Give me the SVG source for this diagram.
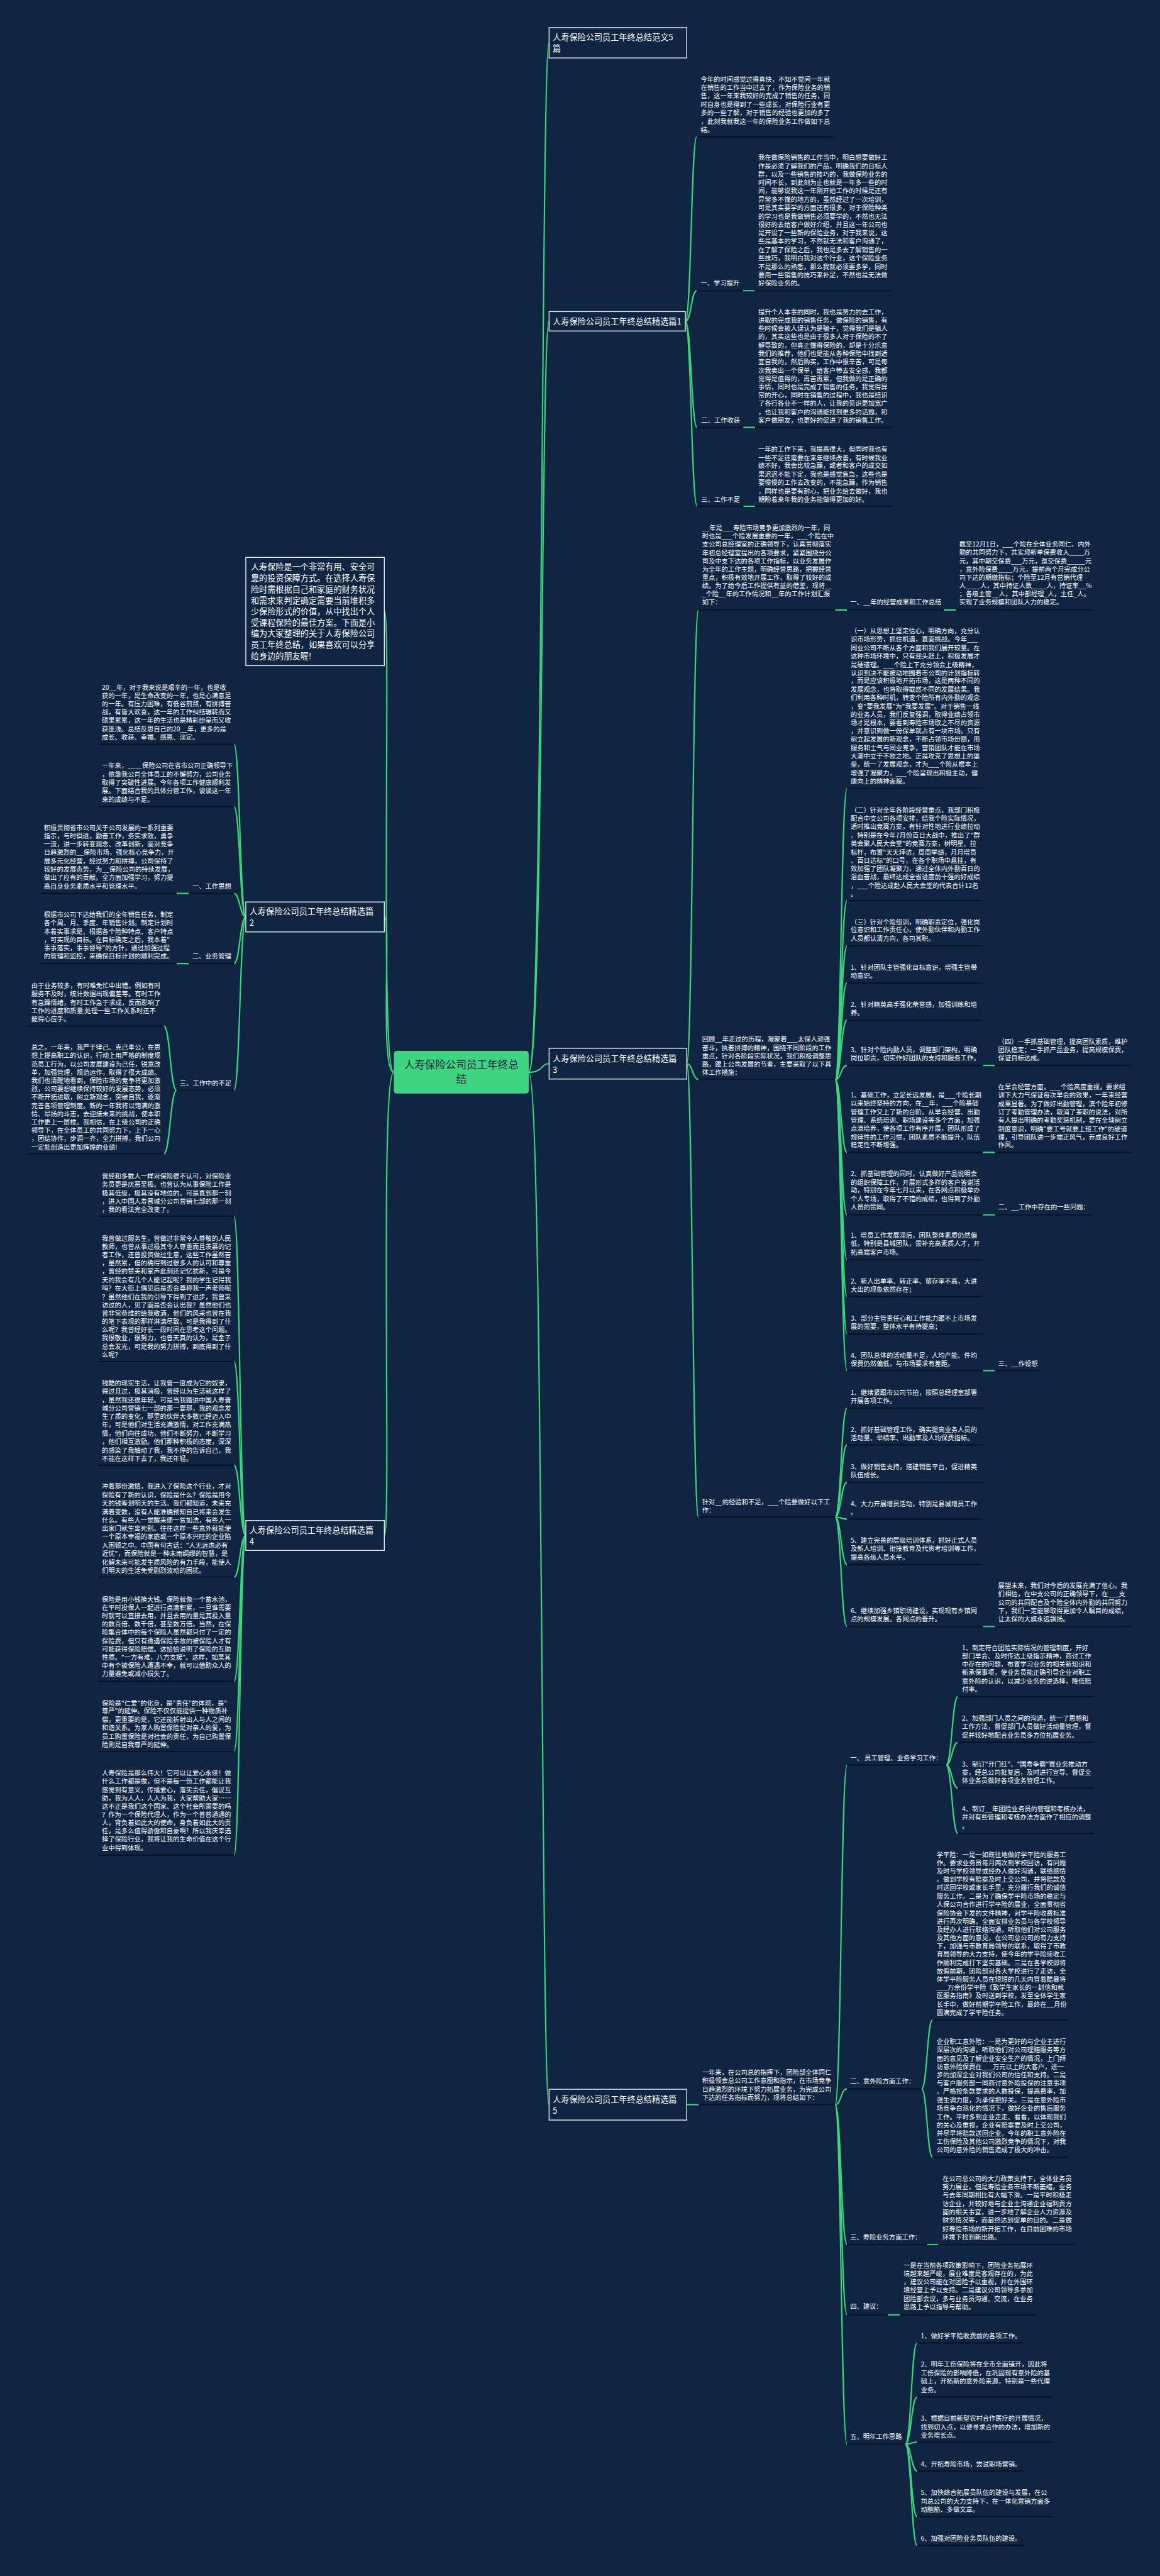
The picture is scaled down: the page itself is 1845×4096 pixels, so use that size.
<svg xmlns="http://www.w3.org/2000/svg" width="1845" height="4096" viewBox="0 0 1845 4096">
<defs>
<style>
.t{font-family:"Noto Sans CJK SC","Noto Sans",sans-serif;font-size:14.3px;fill:#ffffff}
.tb{font-family:"Noto Sans CJK SC","Noto Sans",sans-serif;font-size:18.3px;fill:#ffffff}
.tt{font-family:"Noto Sans CJK SC","Noto Sans",sans-serif;font-size:18.3px;fill:#ffffff}
.tc{font-family:"Noto Sans CJK SC","Noto Sans",sans-serif;font-size:23px;fill:#0f2542;text-anchor:middle}
.u{stroke:#071326;stroke-width:3}
.c{stroke:#3fd47f;stroke-width:3;fill:none}
.box{fill:#0f2542;stroke:#e8e8e8;stroke-width:2}
</style>
</defs>
<rect x="0" y="0" width="1845" height="4096" fill="#0f2542"/>
<g transform="scale(0.72)">
<g id="connectors">
<path class="c" d="M1168 2368 C1200 2368 1195 95 1213 95"/>
<path class="c" d="M1168 2368 C1200 2368 1195 710 1213 710"/>
<path class="c" d="M1168 2368 C1200 2368 1195 2349 1213 2349"/>
<path class="c" d="M1168 2368 C1200 2368 1195 4648 1213 4648"/>
<path class="c" d="M870 2368 C838 2368 865 1350 849 1350"/>
<path class="c" d="M870 2368 C838 2368 865 2025 849 2025"/>
<path class="c" d="M870 2368 C838 2368 865 3391 849 3391"/>
<path class="c" d="M1514 710 C1527 710 1527 302 1539 302"/>
<path class="c" d="M1514 710 C1527 710 1527 642 1539 642"/>
<path class="c" d="M1514 710 C1527 710 1527 944 1540 944"/>
<path class="c" d="M1514 710 C1527 710 1527 1118 1540 1118"/>
<path class="c" d="M1641 642 L1667 642 M1642 944 L1668 944 M1642 1118 L1668 1118"/>
<path class="c" d="M1517 2349 C1530 2349 1530 1347 1543 1347"/>
<path class="c" d="M1517 2349 C1530 2349 1530 2384 1543 2384"/>
<path class="c" d="M1517 2349 C1530 2349 1530 3350 1543 3350"/>
<path class="c" d="M1845 1347 L1871 1347 M2085 1347 L2112 1347"/>
<path class="c" d="M1845 2384 C1858 2384 1858 1741 1871 1741"/>
<path class="c" d="M1845 2384 C1858 2384 1858 1989 1871 1989"/>
<path class="c" d="M1845 2384 C1858 2384 1858 2089 1871 2089"/>
<path class="c" d="M1845 2384 C1858 2384 1858 2171 1871 2171"/>
<path class="c" d="M1845 2384 C1858 2384 1858 2253 1871 2253"/>
<path class="c" d="M1845 2384 C1858 2384 1858 2353 1871 2353"/>
<path class="c" d="M1845 2384 C1858 2384 1858 2545 1871 2545"/>
<path class="c" d="M1845 2384 C1858 2384 1858 2683 1871 2683"/>
<path class="c" d="M1845 2384 C1858 2384 1858 2782 1871 2782"/>
<path class="c" d="M1845 2384 C1858 2384 1858 2863 1871 2863"/>
<path class="c" d="M1845 2384 C1858 2384 1858 2946 1871 2946"/>
<path class="c" d="M1845 2384 C1858 2384 1858 3027 1871 3027"/>
<path class="c" d="M2171 2353 L2198 2353 M2171 2545 L2198 2545 M2171 2683 L2198 2683 M2171 3027 L2198 3027 M2171 3592 L2198 3592"/>
<path class="c" d="M1845 3350 C1858 3350 1858 3110 1871 3110"/>
<path class="c" d="M1845 3350 C1858 3350 1858 3191 1871 3191"/>
<path class="c" d="M1845 3350 C1858 3350 1858 3274 1871 3274"/>
<path class="c" d="M1845 3350 C1858 3350 1858 3355 1871 3355"/>
<path class="c" d="M1845 3350 C1858 3350 1858 3455 1871 3455"/>
<path class="c" d="M1845 3350 C1858 3350 1858 3592 1871 3592"/>
<path class="c" d="M1517 4648 L1543 4648"/>
<path class="c" d="M1845 4648 C1858 4648 1858 3898 1871 3898"/>
<path class="c" d="M1845 4648 C1858 4648 1858 4613 1871 4613"/>
<path class="c" d="M1845 4648 C1858 4648 1858 4957 1871 4957"/>
<path class="c" d="M1845 4648 C1858 4648 1858 5112 1871 5112"/>
<path class="c" d="M1845 4648 C1858 4648 1858 5398 1871 5398"/>
<path class="c" d="M2090 3898 C2103 3898 2103 3747 2116 3747"/>
<path class="c" d="M2090 3898 C2103 3898 2103 3848 2116 3848"/>
<path class="c" d="M2090 3898 C2103 3898 2103 3949 2116 3949"/>
<path class="c" d="M2090 3898 C2103 3898 2103 4049 2116 4049"/>
<path class="c" d="M2036 4613 C2048 4613 2048 4461 2060 4461"/>
<path class="c" d="M2036 4613 C2048 4613 2048 4764 2060 4764"/>
<path class="c" d="M2048 4957 L2073 4957 M1961 5112 L1988 5112"/>
<path class="c" d="M2000 5398 C2013 5398 2013 5174 2026 5174"/>
<path class="c" d="M2000 5398 C2013 5398 2013 5294 2026 5294"/>
<path class="c" d="M2000 5398 C2013 5398 2013 5393 2026 5393"/>
<path class="c" d="M2000 5398 C2013 5398 2013 5457 2026 5457"/>
<path class="c" d="M2000 5398 C2013 5398 2013 5558 2026 5558"/>
<path class="c" d="M2000 5398 C2013 5398 2013 5621 2026 5621"/>
<path class="c" d="M543 2025 C530 2025 530 1644 517 1644"/>
<path class="c" d="M543 2025 C530 2025 530 1781 517 1781"/>
<path class="c" d="M543 2025 C530 2025 530 1973 517 1973"/>
<path class="c" d="M543 2025 C530 2025 530 2128 517 2128"/>
<path class="c" d="M543 2025 C530 2025 530 2408 517 2408"/>
<path class="c" d="M390 1973 L417 1973 M390 2128 L417 2128"/>
<path class="c" d="M390 2408 C376 2408 376 2266 362 2266"/>
<path class="c" d="M390 2408 C376 2408 376 2548 362 2548"/>
<path class="c" d="M543 3391 C530 3391 530 2686 517 2686"/>
<path class="c" d="M543 3391 C530 3391 530 3007 517 3007"/>
<path class="c" d="M543 3391 C530 3391 530 3236 517 3236"/>
<path class="c" d="M543 3391 C530 3391 530 3483 517 3483"/>
<path class="c" d="M543 3391 C530 3391 530 3713 517 3713"/>
<path class="c" d="M543 3391 C530 3391 530 3868 517 3868"/>
<path class="c" d="M543 3391 C530 3391 530 4097 517 4097"/>
</g>

<g id="center">
<rect x="870" y="2321" width="298" height="94" rx="6" fill="#3fd47f"/>
<text class="tc"><tspan x="1019" y="2360">人寿保险公司员工年终总</tspan><tspan x="1019" y="2392">结</tspan></text>
</g>

<g id="b-fanwen">
<rect class="box" x="1213" y="61" width="304" height="67"/>
<text class="tt"><tspan x="1221" y="89">人寿保险公司员工年终总结范文5</tspan><tspan x="1221" y="114">篇</tspan></text>
</g>
<g id="b-p1">
<rect class="box" x="1213" y="688" width="301" height="43"/>
<text class="tt" x="1221" y="717">人寿保险公司员工年终总结精选篇1</text>
</g>
<g id="b-p3">
<rect class="box" x="1213" y="2315" width="304" height="68"/>
<text class="tt"><tspan x="1221" y="2345">人寿保险公司员工年终总结精选篇</tspan><tspan x="1221" y="2370">3</tspan></text>
</g>
<g id="b-p5">
<rect class="box" x="1213" y="4614" width="304" height="68"/>
<text class="tt"><tspan x="1221" y="4643">人寿保险公司员工年终总结精选篇</tspan><tspan x="1221" y="4668">5</tspan></text>
</g>
<g id="b-intro">
<rect class="box" x="543" y="1231" width="306" height="239"/>
<text class="tb"><tspan x="554" y="1259">人寿保险是一个非常有用、安全可</tspan><tspan x="554" y="1284">靠的投资保障方式。在选择人寿保</tspan><tspan x="554" y="1308">险时需根据自己和家庭的财务状况</tspan><tspan x="554" y="1333">和需求来判定确定需要当前堆积多</tspan><tspan x="554" y="1357">少保险形式的价值，从中找出个人</tspan><tspan x="554" y="1382">受课程保险的最佳方案。下面是小</tspan><tspan x="554" y="1406">编为大家整理的关于人寿保险公司</tspan><tspan x="554" y="1431">员工年终总结，如果喜欢可以分享</tspan><tspan x="554" y="1455">给身边的朋友喔!</tspan></text>
</g>
<g id="b-p2">
<rect class="box" x="543" y="1992" width="306" height="66"/>
<text class="tt"><tspan x="551" y="2020">人寿保险公司员工年终总结精选篇</tspan><tspan x="551" y="2045">2</tspan></text>
</g>
<g id="b-p4">
<rect class="box" x="543" y="3358" width="306" height="66"/>
<text class="tt"><tspan x="551" y="3386">人寿保险公司员工年终总结精选篇</tspan><tspan x="551" y="3411">4</tspan></text>
</g>

<!-- 篇1 -->
<g id="p1-intro">
<text class="t"><tspan x="1548" y="180">今年的时间感觉过得真快，不知不觉间一年就</tspan><tspan x="1548" y="199">在销售的工作当中过去了，作为保险业务的销</tspan><tspan x="1548" y="217">售，这一年来我较好的完成了销售的任务，同</tspan><tspan x="1548" y="236">时自身也是得到了一些成长，对保险行业有更</tspan><tspan x="1548" y="254">多的一些了解，对于销售的经验也更加的多了</tspan><tspan x="1548" y="273">，此刻我就我这一年的保险业务工作做如下总</tspan><tspan x="1548" y="292">结。</tspan></text>
<line class="u" x1="1539" y1="302" x2="1841" y2="302"/>
</g>
<g id="p1-l1">
<text class="t" x="1548" y="630">一、学习提升</text>
<line class="u" x1="1539" y1="642" x2="1641" y2="642"/>
</g>
<g id="p1-l1t">
<text class="t"><tspan x="1675" y="353">我在做保险销售的工作当中，明白想要做好工</tspan><tspan x="1675" y="372">作是必须了解我们的产品，明确我们的目标人</tspan><tspan x="1675" y="390">群，以及一些销售的技巧的，我做保险业务的</tspan><tspan x="1675" y="409">时间不长，到此刻为止也就是一年多一些的时</tspan><tspan x="1675" y="427">间，能够说我这一年刚开始工作的时候是还有</tspan><tspan x="1675" y="446">异常多不懂的地方的，虽然经过了一次培训，</tspan><tspan x="1675" y="464">可是其实要学的方面还有很多，对于保险种类</tspan><tspan x="1675" y="483">的学习也是我做销售必须要学的，不然也无法</tspan><tspan x="1675" y="501">很好的去给客户做好介绍，并且这一年公司也</tspan><tspan x="1675" y="520">是开设了一些新的保险业务，对于我来说，这</tspan><tspan x="1675" y="538">些是基本的学习，不然就无法和客户沟通了，</tspan><tspan x="1675" y="557">在了解了保险之后，我也是多去了解销售的一</tspan><tspan x="1675" y="575">些技巧，我明白我对这个行业，这个保险业务</tspan><tspan x="1675" y="594">不是那么的熟悉，那么我就必须要多学，同时</tspan><tspan x="1675" y="612">要用一些销售的技巧来补足，不然也是无法做</tspan><tspan x="1675" y="631">好保险业务的。</tspan></text>
<line class="u" x1="1667" y1="642" x2="1968" y2="642"/>
</g>
<g id="p1-l2">
<text class="t" x="1549" y="933">二、工作收获</text>
<line class="u" x1="1540" y1="944" x2="1642" y2="944"/>
</g>
<g id="p1-l2t">
<text class="t"><tspan x="1675" y="694">提升个人本事的同时，我也是努力的去工作，</tspan><tspan x="1675" y="712">进取的完成我的销售任务，做保险的销售，有</tspan><tspan x="1675" y="731">些时候会被人误认为是骗子，觉得我们是骗人</tspan><tspan x="1675" y="749">的，其实这些也是由于很多人对于保险的不了</tspan><tspan x="1675" y="768">解导致的，但真正懂得保险的，却是十分乐意</tspan><tspan x="1675" y="786">我们的推荐，他们也是能从各种保险中找到适</tspan><tspan x="1675" y="804">宜自我的，然后购买，工作中很辛苦，可是每</tspan><tspan x="1675" y="823">次我卖出一个保单，给客户带去安全感，我都</tspan><tspan x="1675" y="841">觉得是值得的，再苦再累，但我做的是正确的</tspan><tspan x="1675" y="860">事情，同时也是完成了销售的任务，我觉得异</tspan><tspan x="1675" y="878">常的开心，同时在销售的过程中，我也是结识</tspan><tspan x="1675" y="896">了各行各业不一样的人，让我的见识更加宽广</tspan><tspan x="1675" y="915">，也让我和客户的沟通能找到更多的话题，和</tspan><tspan x="1675" y="933">客户做朋友，也更好的促进了我的销售工作。</tspan></text>
<line class="u" x1="1668" y1="944" x2="1968" y2="944"/>
</g>
<g id="p1-l3">
<text class="t" x="1549" y="1108">三、工作不足</text>
<line class="u" x1="1540" y1="1118" x2="1642" y2="1118"/>
</g>
<g id="p1-l3t">
<text class="t"><tspan x="1675" y="997">一年的工作下来，我提高很大，但同时我也有</tspan><tspan x="1675" y="1016">一些不足还需要在来年继续改善，有时候我业</tspan><tspan x="1675" y="1034">绩不好，我会比较急躁，或者和客户的成交如</tspan><tspan x="1675" y="1053">果迟迟不能下定，我也是感觉焦急，这些也是</tspan><tspan x="1675" y="1071">要慢慢的工作去改变的，不能急躁，作为销售</tspan><tspan x="1675" y="1090">，同样也是要有耐心，把业务给去做好，我也</tspan><tspan x="1675" y="1108">期盼着来年我的业务能做得更加的好。</tspan></text>
<line class="u" x1="1668" y1="1118" x2="1968" y2="1118"/>
</g>

<!-- 篇3 -->
<g id="p3-intro">
<text class="t"><tspan x="1551" y="1171">__年是___寿险市场竞争更加激烈的一年，同</tspan><tspan x="1551" y="1189">时也是___个险发展重要的一年，___个险在中</tspan><tspan x="1551" y="1207">支公司总经理室的正确领导下，认真贯彻落实</tspan><tspan x="1551" y="1226">年初总经理室提出的各项要求，紧紧围绕分公</tspan><tspan x="1551" y="1244">司及中支下达的各项工作指标，以业务发展作</tspan><tspan x="1551" y="1262">为全年的工作主题，明确经营思路，把握经营</tspan><tspan x="1551" y="1280">重点，积极有效地开展工作，取得了较好的成</tspan><tspan x="1551" y="1298">绩。为了给今后工作提供有益的借鉴，现将__</tspan><tspan x="1551" y="1317">_个险__年的工作情况和__年的工作计划汇报</tspan><tspan x="1551" y="1335">如下：</tspan></text>
<line class="u" x1="1543" y1="1347" x2="1845" y2="1347"/>
</g>
<g id="p3-h1">
<text class="t" x="1878" y="1335">一、__年的经营成果和工作总结</text>
<line class="u" x1="1871" y1="1347" x2="2085" y2="1347"/>
</g>
<g id="p3-h1t">
<text class="t"><tspan x="2119" y="1207">截至12月1日，___个险在全体业务同仁、内外</tspan><tspan x="2119" y="1225">勤的共同努力下，共实现新单保费收入____万</tspan><tspan x="2119" y="1244">元，其中期交保费___万元，趸交保费_____元</tspan><tspan x="2119" y="1262">，意外险保费____万元，提前两个月完成分公</tspan><tspan x="2119" y="1280">司下达的期缴指标；个险至12月有营销代理</tspan><tspan x="2119" y="1299">人____人，其中持证人数____人，持证率__%</tspan><tspan x="2119" y="1317">；各级主管__人，其中部经理_人，主任_人。</tspan><tspan x="2119" y="1335">实现了业务规模和团队人力的稳定。</tspan></text>
<line class="u" x1="2112" y1="1347" x2="2413" y2="1347"/>
</g>
<g id="p3-review">
<text class="t"><tspan x="1551" y="2300">回顾__年走过的历程，凝聚着___太保人顽强</tspan><tspan x="1551" y="2319">奋斗，执着拼搏的精神，围绕不同阶段的工作</tspan><tspan x="1551" y="2337">重点，针对各阶段实际状况，我们积极调整思</tspan><tspan x="1551" y="2356">路，跟上公司发展的节奏，主要采取了以下具</tspan><tspan x="1551" y="2374">体工作措施：</tspan></text>
<line class="u" x1="1543" y1="2384" x2="1845" y2="2384"/>
</g>
<g id="p3-s1">
<text class="t"><tspan x="1879" y="1399">（一）从思想上坚定信心，明确方向，充分认</tspan><tspan x="1879" y="1417">识市场形势，抓住机遇，直面挑战。今年___</tspan><tspan x="1879" y="1436">同业公司不断从各个方面和我们展开较量。在</tspan><tspan x="1879" y="1454">这种市场环境中，只有迎头赶上，积极发展才</tspan><tspan x="1879" y="1473">是硬道理。___个险上下充分领会上级精神，</tspan><tspan x="1879" y="1491">认识到决不能被动地围着市公司的计划指标转</tspan><tspan x="1879" y="1509">，而是应该积极地开拓市场，这是两种不同的</tspan><tspan x="1879" y="1528">发展观念，也将取得截然不同的发展结果。我</tspan><tspan x="1879" y="1546">们利用各种时机，转变个险所有内外勤的观念</tspan><tspan x="1879" y="1565">，变"要我发展"为"我要发展"。对于销售一线</tspan><tspan x="1879" y="1583">的业务人员，我们反复强调，取得业绩占领市</tspan><tspan x="1879" y="1601">场才是根本，要看到寿险市场取之不尽的资源</tspan><tspan x="1879" y="1620">，并意识到做一份保单就占有一块市场。只有</tspan><tspan x="1879" y="1638">树立起发展的新观念，不断占领市场份额，用</tspan><tspan x="1879" y="1657">服务和士气与同业竞争，营销团队才能在市场</tspan><tspan x="1879" y="1675">大潮中立于不败之地。正是攻克了思想上的堡</tspan><tspan x="1879" y="1693">垒，统一了发展观念，才为___个险从根本上</tspan><tspan x="1879" y="1712">增强了凝聚力，___个险呈现出积极主动，健</tspan><tspan x="1879" y="1730">康向上的精神面貌。</tspan></text>
<line class="u" x1="1871" y1="1741" x2="2171" y2="1741"/>
</g>
<g id="p3-s2">
<text class="t"><tspan x="1879" y="1794">（二）针对全年各阶段经营重点，我部门积极</tspan><tspan x="1879" y="1813">配合中支公司各项安排，结我个险实际情况，</tspan><tspan x="1879" y="1831">适时推出竞赛方案，有针对性地进行业绩拉动</tspan><tspan x="1879" y="1850">。特别是在今年7月份百日大战中，推出了"群</tspan><tspan x="1879" y="1868">英会聚人民大会堂"的竞赛方案，树明星、拉</tspan><tspan x="1879" y="1887">标杆，布置"天天拜访，周周举绩，月月增员</tspan><tspan x="1879" y="1905">、百日达标"的口号，在各个职场中悬挂，有</tspan><tspan x="1879" y="1924">效加强了团队凝聚力，通过全体内外勤百日的</tspan><tspan x="1879" y="1942">浴血奋战，最终达成全省进度前十强的好成绩</tspan><tspan x="1879" y="1961">，___个险达成赴人民大会堂的代表合计12名</tspan><tspan x="1879" y="1979">。</tspan></text>
<line class="u" x1="1871" y1="1989" x2="2171" y2="1989"/>
</g>
<g id="p3-s3">
<text class="t"><tspan x="1879" y="2041">（三）针对个险组训，明确职责定位，强化岗</tspan><tspan x="1879" y="2059">位意识和工作责任心，使外勤伙伴和内勤工作</tspan><tspan x="1879" y="2078">人员都认清方向，各司其职。</tspan></text>
<line class="u" x1="1871" y1="2089" x2="2171" y2="2089"/>
</g>
<g id="p3-s4">
<text class="t"><tspan x="1879" y="2142">1、针对团队主管强化目标意识，增强主管带</tspan><tspan x="1879" y="2160">动意识。</tspan></text>
<line class="u" x1="1871" y1="2171" x2="2171" y2="2171"/>
</g>
<g id="p3-s5">
<text class="t"><tspan x="1879" y="2223">2、针对精英高手强化荣誉感，加强训练和培</tspan><tspan x="1879" y="2241">养。</tspan></text>
<line class="u" x1="1871" y1="2253" x2="2171" y2="2253"/>
</g>
<g id="p3-s6">
<text class="t"><tspan x="1879" y="2323">3、针对个险内勤人员，调整部门架构，明确</tspan><tspan x="1879" y="2341">岗位职责，切实作好团队的支持和服务工作。</tspan></text>
<line class="u" x1="1871" y1="2353" x2="2171" y2="2353"/>
</g>
<g id="p3-s6c">
<text class="t"><tspan x="2205" y="2305">（四）一手抓基础管理，提高团队素质，维护</tspan><tspan x="2205" y="2323">团队稳定；一手抓产品业务，提高规模保费，</tspan><tspan x="2205" y="2342">保证目标达成。</tspan></text>
<line class="u" x1="2198" y1="2353" x2="2499" y2="2353"/>
</g>
<g id="p3-s7">
<text class="t"><tspan x="1879" y="2424">1、基础工作，立足长远发展，是___个险长期</tspan><tspan x="1879" y="2442">以来始终坚持的方向，在__年，___个险基础</tspan><tspan x="1879" y="2461">管理工作又上了新的台阶。从早会经营、出勤</tspan><tspan x="1879" y="2479">管理、系统培训、职场建设等多个方面，加强</tspan><tspan x="1879" y="2497">点滴培养，使各项工作有序开展，团队形成了</tspan><tspan x="1879" y="2516">规律性的工作习惯，团队素质不断提升，队伍</tspan><tspan x="1879" y="2534">稳定性不断增强。</tspan></text>
<line class="u" x1="1871" y1="2545" x2="2171" y2="2545"/>
</g>
<g id="p3-s7c">
<text class="t"><tspan x="2205" y="2406">在早会经营方面，___个险高度重视，要求组</tspan><tspan x="2205" y="2424">训下大力气保证每次早会的效果，一年来经营</tspan><tspan x="2205" y="2443">成果显著。为了做好出勤管理，滨个险年初修</tspan><tspan x="2205" y="2461">订了考勤管理办法，取消了兼职的说法，对所</tspan><tspan x="2205" y="2479">有人提出明确的考勤奖惩机制，要在全辖树立</tspan><tspan x="2205" y="2498">制度意识，明确"要工号就要上班工作"的硬道</tspan><tspan x="2205" y="2516">理，引导团队进一步端正风气，养成良好工作</tspan><tspan x="2205" y="2534">作风。</tspan></text>
<line class="u" x1="2198" y1="2545" x2="2499" y2="2545"/>
</g>
<g id="p3-s8">
<text class="t"><tspan x="1879" y="2597">2、抓基础管理的同时，认真做好产品说明会</tspan><tspan x="1879" y="2616">的组织保障工作，开展形式多样的客户答谢活</tspan><tspan x="1879" y="2634">动，特别在今年七月以来，在各网点积极举办</tspan><tspan x="1879" y="2653">个人专场，取得了不错的成绩，也得到了外勤</tspan><tspan x="1879" y="2671">人员的赞同。</tspan></text>
<line class="u" x1="1871" y1="2683" x2="2171" y2="2683"/>
</g>
<g id="p3-h2">
<text class="t" x="2205" y="2671">二、__工作中存在的一些问题：</text>
<line class="u" x1="2198" y1="2683" x2="2413" y2="2683"/>
</g>
<g id="p3-q1">
<text class="t"><tspan x="1879" y="2734">1、增员工作发展滞后，团队整体素质仍然偏</tspan><tspan x="1879" y="2752">低，特别是县城团队，需补充高素质人才，开</tspan><tspan x="1879" y="2771">拓高端客户市场。</tspan></text>
<line class="u" x1="1871" y1="2782" x2="2171" y2="2782"/>
</g>
<g id="p3-q2">
<text class="t"><tspan x="1879" y="2835">2、新人出单率、转正率、留存率不高，大进</tspan><tspan x="1879" y="2853">大出的现象依然存在；</tspan></text>
<line class="u" x1="1871" y1="2863" x2="2171" y2="2863"/>
</g>
<g id="p3-q3">
<text class="t"><tspan x="1879" y="2917">3、部分主管责任心和工作能力跟不上市场发</tspan><tspan x="1879" y="2935">展的需要，整体水平有待提高；</tspan></text>
<line class="u" x1="1871" y1="2946" x2="2171" y2="2946"/>
</g>
<g id="p3-q4">
<text class="t"><tspan x="1879" y="2998">4、团队总体的活动量不足，人均产能、件均</tspan><tspan x="1879" y="3016">保费仍然偏低，与市场要求有差距。</tspan></text>
<line class="u" x1="1871" y1="3027" x2="2171" y2="3027"/>
</g>
<g id="p3-h3">
<text class="t" x="2205" y="3017">三、__作设想</text>
<line class="u" x1="2198" y1="3027" x2="2299" y2="3027"/>
</g>
<g id="p3-plan">
<text class="t"><tspan x="1551" y="3322">针对__的经验和不足，___个险要做好以下工</tspan><tspan x="1551" y="3340">作：</tspan></text>
<line class="u" x1="1543" y1="3350" x2="1845" y2="3350"/>
</g>
<g id="p3-w1">
<text class="t"><tspan x="1879" y="3080">1、继续紧跟市公司节拍，按照总经理室部署</tspan><tspan x="1879" y="3098">开展各项工作。</tspan></text>
<line class="u" x1="1871" y1="3110" x2="2171" y2="3110"/>
</g>
<g id="p3-w2">
<text class="t"><tspan x="1879" y="3162">2、抓好基础管理工作，确实提高业务人员的</tspan><tspan x="1879" y="3180">活动量、举绩率、出勤率及人均保费指标。</tspan></text>
<line class="u" x1="1871" y1="3191" x2="2171" y2="3191"/>
</g>
<g id="p3-w3">
<text class="t"><tspan x="1879" y="3244">3、做好销售支持，搭建销售平台，促进精英</tspan><tspan x="1879" y="3262">队伍成长。</tspan></text>
<line class="u" x1="1871" y1="3274" x2="2171" y2="3274"/>
</g>
<g id="p3-w4">
<text class="t"><tspan x="1879" y="3326">4、大力开展增员活动，特别是县城增员工作</tspan><tspan x="1879" y="3345">。</tspan></text>
<line class="u" x1="1871" y1="3355" x2="2171" y2="3355"/>
</g>
<g id="p3-w5">
<text class="t"><tspan x="1879" y="3407">5、建立完善的层级培训体系，抓好正式人员</tspan><tspan x="1879" y="3425">及新人培训、衔接教育及代资考培训等工作，</tspan><tspan x="1879" y="3444">提高各级人员水平。</tspan></text>
<line class="u" x1="1871" y1="3455" x2="2171" y2="3455"/>
</g>
<g id="p3-w6">
<text class="t"><tspan x="1879" y="3563">6、继续加强乡镇职场建设，实现现有乡镇网</tspan><tspan x="1879" y="3581">点的规模发展。各网点的晋升。</tspan></text>
<line class="u" x1="1871" y1="3592" x2="2171" y2="3592"/>
</g>
<g id="p3-future">
<text class="t"><tspan x="2205" y="3507">展望未来，我们对今后的发展充满了信心。我</tspan><tspan x="2205" y="3525">们相信，在中支公司的正确领导下，在___支</tspan><tspan x="2205" y="3544">公司的共同配合及个险全体内外勤的共同努力</tspan><tspan x="2205" y="3562">下，我们一定能够取得更加令人瞩目的成绩，</tspan><tspan x="2205" y="3581">让太保的大旗永远飘扬。</tspan></text>
<line class="u" x1="2198" y1="3592" x2="2499" y2="3592"/>
</g>

<!-- 篇5 -->
<g id="p5-intro">
<text class="t"><tspan x="1551" y="4582">一年来，在公司总的指挥下，团险部全体同仁</tspan><tspan x="1551" y="4600">积极领会总公司工作意图和指示，在市场竞争</tspan><tspan x="1551" y="4619">日趋激烈的环境下努力拓展业务，为完成公司</tspan><tspan x="1551" y="4637">下达的任务指标而努力，现将总结如下：</tspan></text>
<line class="u" x1="1543" y1="4648" x2="1845" y2="4648"/>
</g>
<g id="p5-h1">
<text class="t" x="1878" y="3887">一、 员工管理、业务学习工作：</text>
<line class="u" x1="1871" y1="3898" x2="2090" y2="3898"/>
</g>
<g id="p5-h1a">
<text class="t"><tspan x="2125" y="3644">1、制定符合团险实际情况的管理制度，开好</tspan><tspan x="2125" y="3662">部门早会、及时传达上级指示精神，商讨工作</tspan><tspan x="2125" y="3681">中存在的问题，布置学习业务的相关新知识和</tspan><tspan x="2125" y="3699">新承保事项，使业务员能正确引导企业对职工</tspan><tspan x="2125" y="3718">意外险的认识，以减少业务的逆选择，降低赔</tspan><tspan x="2125" y="3736">付率。</tspan></text>
<line class="u" x1="2116" y1="3747" x2="2417" y2="3747"/>
</g>
<g id="p5-h1b">
<text class="t"><tspan x="2125" y="3800">2、加强部门人员之间的沟通，统一了思想和</tspan><tspan x="2125" y="3818">工作方法，督促部门人员做好活动量管理，督</tspan><tspan x="2125" y="3837">促并较好地配合业务员多方位拓展业务。</tspan></text>
<line class="u" x1="2116" y1="3848" x2="2417" y2="3848"/>
</g>
<g id="p5-h1c">
<text class="t"><tspan x="2125" y="3901">3、制订"开门红"、"国寿争霸"赛业务推动方</tspan><tspan x="2125" y="3919">案，经总公司批复后，及时进行宣导、督促全</tspan><tspan x="2125" y="3937">体业务员做好各项业务管理工作。</tspan></text>
<line class="u" x1="2116" y1="3949" x2="2417" y2="3949"/>
</g>
<g id="p5-h1d">
<text class="t"><tspan x="2125" y="4000">4、制订__年团险业务员的管理和考核办法，</tspan><tspan x="2125" y="4018">并对有些管理和考核办法方面作了相应的调整</tspan><tspan x="2125" y="4037">。</tspan></text>
<line class="u" x1="2116" y1="4049" x2="2417" y2="4049"/>
</g>
<g id="p5-h2">
<text class="t" x="1878" y="4601">二、意外险方面工作：</text>
<line class="u" x1="1871" y1="4613" x2="2036" y2="4613"/>
</g>
<g id="p5-h2a">
<text class="t"><tspan x="2069" y="4101">学平险：一是一如既往地做好学平险的服务工</tspan><tspan x="2069" y="4119">作。要求业务员每月两次到学校回访，有问题</tspan><tspan x="2069" y="4138">及时与学校领导或经办人做好沟通，联络感情</tspan><tspan x="2069" y="4156">。做到学校有赔案及时上交公司，并将赔款及</tspan><tspan x="2069" y="4174">时送回学校或家长手里，充分履行我们的诚信</tspan><tspan x="2069" y="4193">服务工作。二是为了确保学平险市场的稳定与</tspan><tspan x="2069" y="4211">人保公司合作进行学平险的展业，全面贯彻省</tspan><tspan x="2069" y="4230">保险协会下发的文件精神，对学平险收费标准</tspan><tspan x="2069" y="4248">进行再次明确，全面安排业务员与各学校领导</tspan><tspan x="2069" y="4266">及经办人进行联络沟通，听取他们对公司服务</tspan><tspan x="2069" y="4285">及其他方面的意见，在公司总公司的有力支持</tspan><tspan x="2069" y="4303">下，加强与市教育局领导的联系，取得了市教</tspan><tspan x="2069" y="4321">育局领导的大力支持，使今年的学平险续收工</tspan><tspan x="2069" y="4340">作顺利完成打下坚实基础。三是在各学校即将</tspan><tspan x="2069" y="4358">放假前期，团险部对各大学校进行了走访，全</tspan><tspan x="2069" y="4377">体学平险服务人员在短短的几天内冒着酷暑将</tspan><tspan x="2069" y="4395">___万余份学平险《致学生家长的一封信和就</tspan><tspan x="2069" y="4413">医服务指南》及时送到学校，发至全体学生家</tspan><tspan x="2069" y="4432">长手中，做好前期学平险工作，最终在__月份</tspan><tspan x="2069" y="4450">圆满完成了学平险任务。</tspan></text>
<line class="u" x1="2060" y1="4461" x2="2360" y2="4461"/>
</g>
<g id="p5-h2b">
<text class="t"><tspan x="2069" y="4514">企业职工意外险：一是为更好的与企业主进行</tspan><tspan x="2069" y="4532">深层次的沟通，听取他们对公司理赔服务等方</tspan><tspan x="2069" y="4551">面的意见及了解企业安全生产的情况，上门拜</tspan><tspan x="2069" y="4569">访意外险保费在___万元以上的大客户，进一</tspan><tspan x="2069" y="4588">步的加深企业对我们公司的信任和支持。二是</tspan><tspan x="2069" y="4606">与客户服务部一同商讨意外险投保的注意事项</tspan><tspan x="2069" y="4624">。严格按条款要求的人数投保，提高费率，加</tspan><tspan x="2069" y="4643">强生调力度，为承保把好关。三是在意外险市</tspan><tspan x="2069" y="4661">场竞争白热化的情况下，做好企业的售后服务</tspan><tspan x="2069" y="4680">工作。平时多到企业走走、看看，以体现我们</tspan><tspan x="2069" y="4698">的关心及重视，企业有赔案要及时上交公司，</tspan><tspan x="2069" y="4716">并尽早将赔款送回企业。今年的职工意外险在</tspan><tspan x="2069" y="4735">工伤保险及其他公司激烈竞争的情况下，对我</tspan><tspan x="2069" y="4753">公司的意外险的销售造成了极大的冲击。</tspan></text>
<line class="u" x1="2060" y1="4764" x2="2360" y2="4764"/>
</g>
<g id="p5-h3">
<text class="t" x="1878" y="4946">三、寿险业务方面工作：</text>
<line class="u" x1="1871" y1="4957" x2="2048" y2="4957"/>
</g>
<g id="p5-h3a">
<text class="t"><tspan x="2082" y="4816">在公司总公司的大力政策支持下，全体业务员</tspan><tspan x="2082" y="4835">努力展业，但是寿险业务市场不断萎缩，业务</tspan><tspan x="2082" y="4853">与去年同期相比有大幅下滑。一是平时积极走</tspan><tspan x="2082" y="4872">访企业，并较好地与企业主沟通企业福利费方</tspan><tspan x="2082" y="4890">面的相关事宜，进一步地了解企业人力资源及</tspan><tspan x="2082" y="4909">财务情况等，而最终达到促单的目的。二是做</tspan><tspan x="2082" y="4928">好寿险市场的新开拓工作，在目前困难的市场</tspan><tspan x="2082" y="4946">环境下找到新出路。</tspan></text>
<line class="u" x1="2073" y1="4957" x2="2374" y2="4957"/>
</g>
<g id="p5-h4">
<text class="t" x="1878" y="5099">四、建议：</text>
<line class="u" x1="1871" y1="5112" x2="1961" y2="5112"/>
</g>
<g id="p5-h4a">
<text class="t"><tspan x="1996" y="5008">一是在当前各项政策影响下，团险业务拓展环</tspan><tspan x="1996" y="5026">境越来越严峻，展业难度是客观存在的，为此</tspan><tspan x="1996" y="5045">，建议公司能在对团险予以重视，并在外围环</tspan><tspan x="1996" y="5063">境经营上予以支持。二是建议公司领导多参加</tspan><tspan x="1996" y="5082">团险部会议，多与业务员沟通、交流，在业务</tspan><tspan x="1996" y="5100">思路上予以指导与帮助。</tspan></text>
<line class="u" x1="1988" y1="5112" x2="2288" y2="5112"/>
</g>
<g id="p5-h5">
<text class="t" x="1878" y="5386">五、明年工作思路</text>
<line class="u" x1="1871" y1="5398" x2="2000" y2="5398"/>
</g>
<g id="p5-h5a">
<text class="t" x="2034" y="5164">1、做好学平险收费前的各项工作。</text>
<line class="u" x1="2026" y1="5174" x2="2261" y2="5174"/>
</g>
<g id="p5-h5b">
<text class="t"><tspan x="2034" y="5227">2、明年工伤保险将在全市全面铺开，因此将</tspan><tspan x="2034" y="5246">工伤保险的影响降低，在巩固现有意外险的基</tspan><tspan x="2034" y="5264">础上，开拓新的意外险来源，特别是一些代理</tspan><tspan x="2034" y="5283">业务。</tspan></text>
<line class="u" x1="2026" y1="5294" x2="2326" y2="5294"/>
</g>
<g id="p5-h5c">
<text class="t"><tspan x="2034" y="5346">3、根据目前新型农村合作医疗的开展情况，</tspan><tspan x="2034" y="5365">找到切入点，以便寻求合作的办法，增加新的</tspan><tspan x="2034" y="5383">业务增长点。</tspan></text>
<line class="u" x1="2026" y1="5393" x2="2326" y2="5393"/>
</g>
<g id="p5-h5d">
<text class="t" x="2034" y="5447">4、开拓寿险市场，尝试职场营销。</text>
<line class="u" x1="2026" y1="5457" x2="2261" y2="5457"/>
</g>
<g id="p5-h5e">
<text class="t"><tspan x="2034" y="5510">5、加快综合拓展员队伍的建设与发展，在公</tspan><tspan x="2034" y="5529">司总公司的大力支持下，在一体化营销方面多</tspan><tspan x="2034" y="5547">动脑筋、多做文章。</tspan></text>
<line class="u" x1="2026" y1="5558" x2="2326" y2="5558"/>
</g>
<g id="p5-h5f">
<text class="t" x="2034" y="5611">6、加强对团险业务员队伍的建设。</text>
<line class="u" x1="2026" y1="5621" x2="2261" y2="5621"/>
</g>

<!-- 篇2 -->
<g id="p2-a">
<text class="t"><tspan x="225" y="1523">20__年，对于我来说是艰辛的一年，也是收</tspan><tspan x="225" y="1541">获的一年，是生命改变的一年，也是心满意足</tspan><tspan x="225" y="1560">的一年。有压力困难，有低谷煎熬，有拼搏奋</tspan><tspan x="225" y="1578">战，有皆大欢喜，这一年的工作纠结辗转而又</tspan><tspan x="225" y="1596">硕果累累，这一年的生活也是精彩纷呈而又收</tspan><tspan x="225" y="1615">获匪浅。总结反思自己的20__年，更多的是</tspan><tspan x="225" y="1633">成长、收获、幸福、感恩、淡定。</tspan></text>
<line class="u" x1="217" y1="1644" x2="517" y2="1644"/>
</g>
<g id="p2-b">
<text class="t"><tspan x="225" y="1696">一年来，____保险公司在省市公司正确领导下</tspan><tspan x="225" y="1715">，依靠我公司全体员工的不懈努力，公司业务</tspan><tspan x="225" y="1733">取得了突破性进展。今年各项工作健康顺利发</tspan><tspan x="225" y="1752">展。下面结合我的具体分管工作，谈谈这一年</tspan><tspan x="225" y="1771">来的成绩与不足。</tspan></text>
<line class="u" x1="217" y1="1781" x2="517" y2="1781"/>
</g>
<g id="p2-h1">
<text class="t" x="425" y="1962">一、工作思想</text>
<line class="u" x1="417" y1="1973" x2="517" y2="1973"/>
</g>
<g id="p2-h1t">
<text class="t"><tspan x="97" y="1833">积极贯彻省市公司关于公司发展的一系列重要</tspan><tspan x="97" y="1851">指示，与时俱进，勤奋工作，务实求效，勇争</tspan><tspan x="97" y="1870">一流，进一步转变观念、改革创新，面对竞争</tspan><tspan x="97" y="1888">日趋激烈的__保险市场，强化核心竞争力，开</tspan><tspan x="97" y="1907">展多元化经营，经过努力和拼搏，公司保持了</tspan><tspan x="97" y="1925">较好的发展态势，为__保险公司的持续发展，</tspan><tspan x="97" y="1943">做出了应有的贡献。全方面加强学习，努力提</tspan><tspan x="97" y="1962">高自身业务素质水平和管理水平。</tspan></text>
<line class="u" x1="90" y1="1973" x2="390" y2="1973"/>
</g>
<g id="p2-h2">
<text class="t" x="425" y="2117">二、业务管理</text>
<line class="u" x1="417" y1="2128" x2="517" y2="2128"/>
</g>
<g id="p2-h2t">
<text class="t"><tspan x="97" y="2025">根据市公司下达给我们的全年销售任务，制定</tspan><tspan x="97" y="2043">各个周、月、季度、年销售计划。制定计划时</tspan><tspan x="97" y="2062">本着实事求是、根据各个险种特点、客户特点</tspan><tspan x="97" y="2080">，可实现的目标。在目标确定之后，我本着"</tspan><tspan x="97" y="2099">事事落实，事事督导"的方针，通过加强过程</tspan><tspan x="97" y="2117">的管理和监控，来确保目标计划的顺利完成。</tspan></text>
<line class="u" x1="90" y1="2128" x2="390" y2="2128"/>
</g>
<g id="p2-h3">
<text class="t" x="397" y="2397">三、工作中的不足</text>
<line class="u" x1="390" y1="2408" x2="517" y2="2408"/>
</g>
<g id="p2-h3a">
<text class="t"><tspan x="69" y="2182">由于业务较多，有时难免忙中出错。例如有时</tspan><tspan x="69" y="2200">服务不及时，统计数据出现偏差等。有时工作</tspan><tspan x="69" y="2219">有急躁情绪，有时工作急于求成，反而影响了</tspan><tspan x="69" y="2237">工作的进度和质量;处理一些工作关系时还不</tspan><tspan x="69" y="2255">能得心应手。</tspan></text>
<line class="u" x1="62" y1="2266" x2="362" y2="2266"/>
</g>
<g id="p2-h3b">
<text class="t"><tspan x="69" y="2318">总之，一年来，我严于律己、克己奉公，在思</tspan><tspan x="69" y="2336">想上提高职工的认识，行动上用严格的制度规</tspan><tspan x="69" y="2355">范员工行为，以公司发展建设为己任，锐意改</tspan><tspan x="69" y="2373">革，加强管理，规范运作，取得了很大成绩。</tspan><tspan x="69" y="2392">我们也清醒地看到，保险市场的竞争将更加激</tspan><tspan x="69" y="2410">烈，公司要想继续保持较好的发展态势，必须</tspan><tspan x="69" y="2428">不断开拓进取，树立新观念，突破自我，逐渐</tspan><tspan x="69" y="2447">完善各项管理制度。新的一年我将以饱满的激</tspan><tspan x="69" y="2465">情、昂扬的斗志，去迎接未来的挑战，使本职</tspan><tspan x="69" y="2484">工作更上一层楼。我相信，在上级公司的正确</tspan><tspan x="69" y="2502">领导下，在全体员工的共同努力下，上下一心</tspan><tspan x="69" y="2520">，团结协作，步调一齐，全力拼搏，我们公司</tspan><tspan x="69" y="2539">一定能创造出更加辉煌的业绩!</tspan></text>
<line class="u" x1="62" y1="2548" x2="362" y2="2548"/>
</g>

<!-- 篇4 -->
<g id="p4-a">
<text class="t"><tspan x="225" y="2603">曾经和多数人一样对保险很不认可，对保险业</tspan><tspan x="225" y="2621">务员更是厌恶至极。也曾认为从事保险工作是</tspan><tspan x="225" y="2640">极其低级，极其没有地位的。可是直到那一刻</tspan><tspan x="225" y="2658">，进入中国人寿晋城分公司营销七部的那一刻</tspan><tspan x="225" y="2676">，我的看法完全改变了。</tspan></text>
<line class="u" x1="217" y1="2686" x2="517" y2="2686"/>
</g>
<g id="p4-b">
<text class="t"><tspan x="225" y="2740">我曾做过服务生，曾做过非常令人尊敬的人民</tspan><tspan x="225" y="2758">教师，也曾从事过极其令人尊重而且羡慕的记</tspan><tspan x="225" y="2777">者工作，还曾投资做过生意，这些工作虽然苦</tspan><tspan x="225" y="2795">，虽然累，但的确得到过很多人的认可和尊重</tspan><tspan x="225" y="2813">，曾经的赞美和掌声此刻还记忆犹新，可是今</tspan><tspan x="225" y="2832">天的我会有几个人能记起呢？我的学生记得我</tspan><tspan x="225" y="2850">吗？在大街上偶见后是否会尊称我一声老师呢</tspan><tspan x="225" y="2869">？虽然他们在我的引导下得到了进步，我曾采</tspan><tspan x="225" y="2887">访过的人，见了面是否会认出我？虽然他们也</tspan><tspan x="225" y="2905">曾非常恭维的给我敬酒，他们的风采也曾在我</tspan><tspan x="225" y="2924">的笔下表现的那样淋漓尽致。可是我得到了什</tspan><tspan x="225" y="2942">么呢？我曾经好长一段时间在思考这个问题。</tspan><tspan x="225" y="2960">我很敬业，很努力，也曾天真的认为，是金子</tspan><tspan x="225" y="2979">总会发光，可是我的努力拼搏，到底得到了什</tspan><tspan x="225" y="2997">么呢？</tspan></text>
<line class="u" x1="217" y1="3007" x2="517" y2="3007"/>
</g>
<g id="p4-c">
<text class="t"><tspan x="225" y="3060">残酷的现实生活，让我曾一度成为它的奴隶，</tspan><tspan x="225" y="3078">得过且过，极其消极，曾经以为生活就这样了</tspan><tspan x="225" y="3097">，虽然我还很年轻。可是当我踏进中国人寿晋</tspan><tspan x="225" y="3115">城分公司营销七一部的那一霎那，我的观念发</tspan><tspan x="225" y="3134">生了质的变化，那里的伙伴大多数已经迈入中</tspan><tspan x="225" y="3152">年，可是他们对生活充满激情，对工作充满热</tspan><tspan x="225" y="3171">情，他们向往成功，他们不断努力，不断学习</tspan><tspan x="225" y="3189">，他们相互激励。他们那种积极的态度，深深</tspan><tspan x="225" y="3208">的感染了我触动了我，我不停的告诉自己，我</tspan><tspan x="225" y="3226">不能在这样下去了，我还年轻。</tspan></text>
<line class="u" x1="217" y1="3236" x2="517" y2="3236"/>
</g>
<g id="p4-d">
<text class="t"><tspan x="225" y="3288">冲着那份激情，我进入了保险这个行业，才对</tspan><tspan x="225" y="3307">保险有了新的认识，保险是什么？保险是用今</tspan><tspan x="225" y="3325">天的钱筹划明天的生活。我们都知道，未来充</tspan><tspan x="225" y="3344">满着变数，没有人能准确预知自己将来会发生</tspan><tspan x="225" y="3362">什么。有些人一觉醒来便一贫如洗，有些人一</tspan><tspan x="225" y="3381">出家门就生离死别。往往这样一些意外就能使</tspan><tspan x="225" y="3399">一个原本幸福的家庭或一个原本兴旺的企业陷</tspan><tspan x="225" y="3418">入困顿之中。中国有句古话："人无远虑必有</tspan><tspan x="225" y="3436">近忧"，而保险就是一种未雨绸缪的智慧，是</tspan><tspan x="225" y="3455">化解未来可能发生质风险的有力手段，能使人</tspan><tspan x="225" y="3473">们明天的生活免受剧烈波动的困扰。</tspan></text>
<line class="u" x1="217" y1="3483" x2="517" y2="3483"/>
</g>
<g id="p4-e">
<text class="t"><tspan x="225" y="3537">保险是用小钱换大钱。保险就像一个蓄水池，</tspan><tspan x="225" y="3555">在平时投保人一起进行点滴积累，一旦谁需要</tspan><tspan x="225" y="3574">时就可以直接去用，并且去用的量是其投入量</tspan><tspan x="225" y="3592">的数百倍、数千倍，甚至数万倍。当然，在保</tspan><tspan x="225" y="3610">险集合体中的每个保险人虽然都只付了一定的</tspan><tspan x="225" y="3629">保险费，但只有遭遇保险事故的被保险人才有</tspan><tspan x="225" y="3647">可能获得保险赔偿。这恰恰说明了保险的互助</tspan><tspan x="225" y="3665">性质。"一方有难，八方支援"。这样，如果其</tspan><tspan x="225" y="3683">中有个被保险人遭遇不幸，就可以借助众人的</tspan><tspan x="225" y="3702">力量避免或减小损失了。</tspan></text>
<line class="u" x1="217" y1="3713" x2="517" y2="3713"/>
</g>
<g id="p4-f">
<text class="t"><tspan x="225" y="3766">保险是"仁爱"的化身，是"责任"的体现，是"</tspan><tspan x="225" y="3784">尊严"的延伸。保险不仅仅能提供一种物质补</tspan><tspan x="225" y="3803">偿，更重要的是，它还能折射出人与人之间的</tspan><tspan x="225" y="3821">和谐关系。为家人购置保险是对亲人的爱，为</tspan><tspan x="225" y="3840">员工购置保险是对社会的责任，为自己购置保</tspan><tspan x="225" y="3858">险则是自我尊严的延伸。</tspan></text>
<line class="u" x1="217" y1="3868" x2="517" y2="3868"/>
</g>
<g id="p4-g">
<text class="t"><tspan x="225" y="3921">人寿保险是那么伟大！它可以让爱心永续！做</tspan><tspan x="225" y="3939">什么工作都是做，但不是每一份工作都能让我</tspan><tspan x="225" y="3958">感觉到有意义。传播爱心，落实责任，倡议互</tspan><tspan x="225" y="3976">助，我为人人，人人为我，大家帮助大家……</tspan><tspan x="225" y="3994">这不正是我们这个国家、这个社会所需要的吗</tspan><tspan x="225" y="4013">？作为一个保险代理人，作为一个普普通通的</tspan><tspan x="225" y="4031">人，背负着如此大的使命，身负着如此大的责</tspan><tspan x="225" y="4049">任，是多么值得骄傲和自豪啊！所以我庆幸选</tspan><tspan x="225" y="4067">择了保险行业，我将让我的生命价值在这个行</tspan><tspan x="225" y="4086">业中得到体现。</tspan></text>
<line class="u" x1="217" y1="4097" x2="517" y2="4097"/>
</g>
</g>
</svg>
